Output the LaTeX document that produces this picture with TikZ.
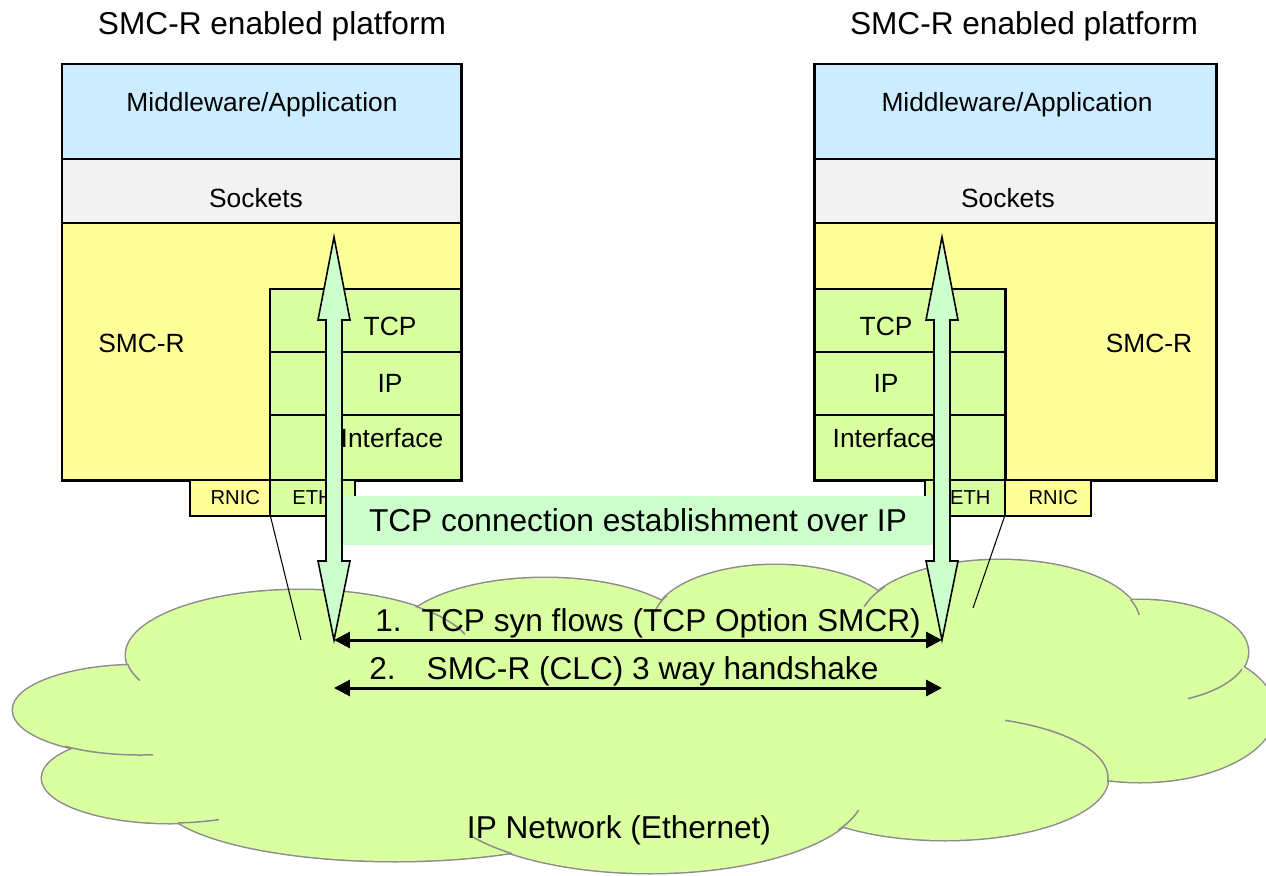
\documentclass[tikz,border=0pt]{standalone}
\usepackage{fontspec}
\setmainfont{Liberation Sans}
\usetikzlibrary{arrows.meta}

\definecolor{appblue}{HTML}{CCECFF}
\definecolor{sockgray}{HTML}{F2F2F2}
\definecolor{smcyellow}{HTML}{FFFF99}
\definecolor{stackgreen}{HTML}{D9FFA1}
\definecolor{mint}{HTML}{CCFFCC}
\definecolor{cloudgray}{HTML}{8C8C8C}

\begin{document}
\begin{tikzpicture}[x=0.02cm, y=-0.02cm,
    layer/.style={draw, line width=1.7pt},
    nic/.style={draw, line width=0.6pt, inner sep=0pt, minimum height=0.72cm,
      font=\fontsize{11.5}{14}\selectfont},
    txt/.style={font=\fontsize{15}{18}\selectfont, inner sep=0pt, anchor=base},
    big/.style={font=\fontsize{18}{22}\selectfont, inner sep=0pt, anchor=base},
    hollow/.style={draw, fill=mint, line width=0.9pt, line join=miter},
    flow/.style={line width=1.7pt,
      {Triangle[length=9pt,width=9pt]}-{Triangle[length=9pt,width=9pt]}}]

    \useasboundingbox (0,0) rectangle (1266,875);

    \node[big] (titleL) at (272,35) {SMC-R enabled platform};
    \node[big] (titleR) at (1024,35) {SMC-R enabled platform};

    \draw[layer, fill=smcyellow] (62,64) rectangle (461,480);
    \draw[layer, fill=appblue] (62,64) rectangle (461,159);
    \draw[layer, fill=sockgray] (62,159) rectangle (461,223);
    \draw[layer, fill=stackgreen] (270,289) rectangle (461,352);
    \draw[layer, fill=stackgreen] (270,352) rectangle (461,415);
    \draw[layer, fill=stackgreen] (270,415) rectangle (461,480);
    \node[txt] (appL) at (262,112) {Middleware/Application};
    \node[txt] (sockL) at (256,207) {Sockets};
    \node[txt, anchor=base west] (smcL) at (98,352) {SMC-R};
    \node[txt] (tcpL) at (390,335) {TCP};
    \node[txt] (ipL) at (390,392) {IP};
    \node[txt] (ifL) at (392,447) {Interface};

    \draw[layer, fill=smcyellow] (814,64) rectangle (1216,480);
    \draw[layer, fill=appblue] (814,64) rectangle (1216,159);
    \draw[layer, fill=sockgray] (814,159) rectangle (1216,223);
    \draw[layer, fill=stackgreen] (814,289) rectangle (1005,352);
    \draw[layer, fill=stackgreen] (814,352) rectangle (1005,415);
    \draw[layer, fill=stackgreen] (814,415) rectangle (1005,480);
    \node[txt] (appR) at (1017,112) {Middleware/Application};
    \node[txt] (sockR) at (1008,207) {Sockets};
    \node[txt] (smcR) at (1149,352) {SMC-R};
    \node[txt] (tcpR) at (886,335) {TCP};
    \node[txt] (ipR) at (886,392) {IP};
    \node[txt] (ifR) at (884,447) {Interface};

    \node[nic, fill=smcyellow, minimum width=1.6cm] (rnicL) at (230,498) {\hspace{6pt}RNIC};
    \node[nic, fill=stackgreen, minimum width=1.7cm] (ethL) at (312.5,498) {ETH};
    \node[nic, fill=stackgreen, minimum width=1.6cm] (ethR) at (965,498) {\hspace{6pt}ETH};
    \node[nic, fill=smcyellow, minimum width=1.72cm] (rnicR) at (1048,498) {\hspace{6pt}RNIC};

    \foreach \cx/\cy/\rx/\ry in {300/655/174/65, 140/710/127/45, 170/778/128/45,
        395/798/235/63, 650/790/215/83, 945/778/163/62, 1140/712/135/70,
        1140/652/108/52, 1000/622/140/62, 775/622/122/57, 545/640/150/62}
      \draw[cloudgray, line width=1.7pt] (\cx,\cy) ellipse [x radius=\rx, y radius=\ry];
    \foreach \cx/\cy/\rx/\ry in {300/655/174/65, 140/710/127/45, 170/778/128/45,
        395/798/235/63, 650/790/215/83, 945/778/163/62, 1140/712/135/70,
        1140/652/108/52, 1000/622/140/62, 775/622/122/57, 545/640/150/62,
        640/720/450/100}
      \fill[stackgreen] (\cx,\cy) ellipse [x radius=\rx, y radius=\ry];
    \foreach \cx/\cy/\rx/\ry/\xa/\ya/\xb/\yb in {300/655/174/65/120/664/140/680,
        140/710/127/45/65/738/153/760, 170/778/128/45/178/810/219/828,
        300/655/174/65/415/600/465/635, 650/790/215/83/470/830/512/853,
        650/790/215/83/838/810/860/830, 945/778/163/62/1005/715/1112/781,
        1140/652/108/52/1188/665/1242/700, 1000/622/140/62/860/585/885/606,
        1000/622/140/62/1128/600/1141/614, 775/622/122/57/655/596/672/612}
    {
      \begin{scope}
        \clip (\xa,\ya) rectangle (\xb,\yb);
        \draw[cloudgray, line width=0.85pt] (\cx,\cy) ellipse [x radius=\rx, y radius=\ry];
      \end{scope}
    }
    \node[big] (net) at (619,838) {IP Network (Ethernet)};

    \node[big, anchor=center, fill=mint, minimum width=11.84cm, minimum height=0.98cm] (estab) at (638,520.5) {TCP connection establishment over IP};

    \coordinate (netL) at (301,640);
    \coordinate (netR) at (973,608);
    \draw[line width=0.6pt] (rnicL.south east) -- (netL);
    \draw[line width=0.6pt] (rnicR.south west) -- (netR);

    \foreach \ax in {334,942}
      \draw[hollow] (\ax,237) -- (\ax+16,320) -- (\ax+8,320) -- (\ax+8,561) -- (\ax+16,561)
        -- (\ax,640) -- (\ax-16,561) -- (\ax-8,561) -- (\ax-8,320) -- (\ax-16,320) -- cycle;

    \coordinate (synL) at (334,640);
    \coordinate (synR) at (942,640);
    \coordinate (clcL) at (334,688);
    \coordinate (clcR) at (942,688);
    \draw[flow] (synL) -- (synR);
    \draw[flow] (clcL) -- (clcR);
    \node[big, anchor=base west] (step1) at (375,631) {1.\hspace{0.4cm}TCP syn flows (TCP Option SMCR)};
    \node[big, anchor=base west] (step2) at (369,679) {2.\hspace{0.62cm}SMC-R (CLC) 3 way handshake};

\end{tikzpicture}
\end{document}
